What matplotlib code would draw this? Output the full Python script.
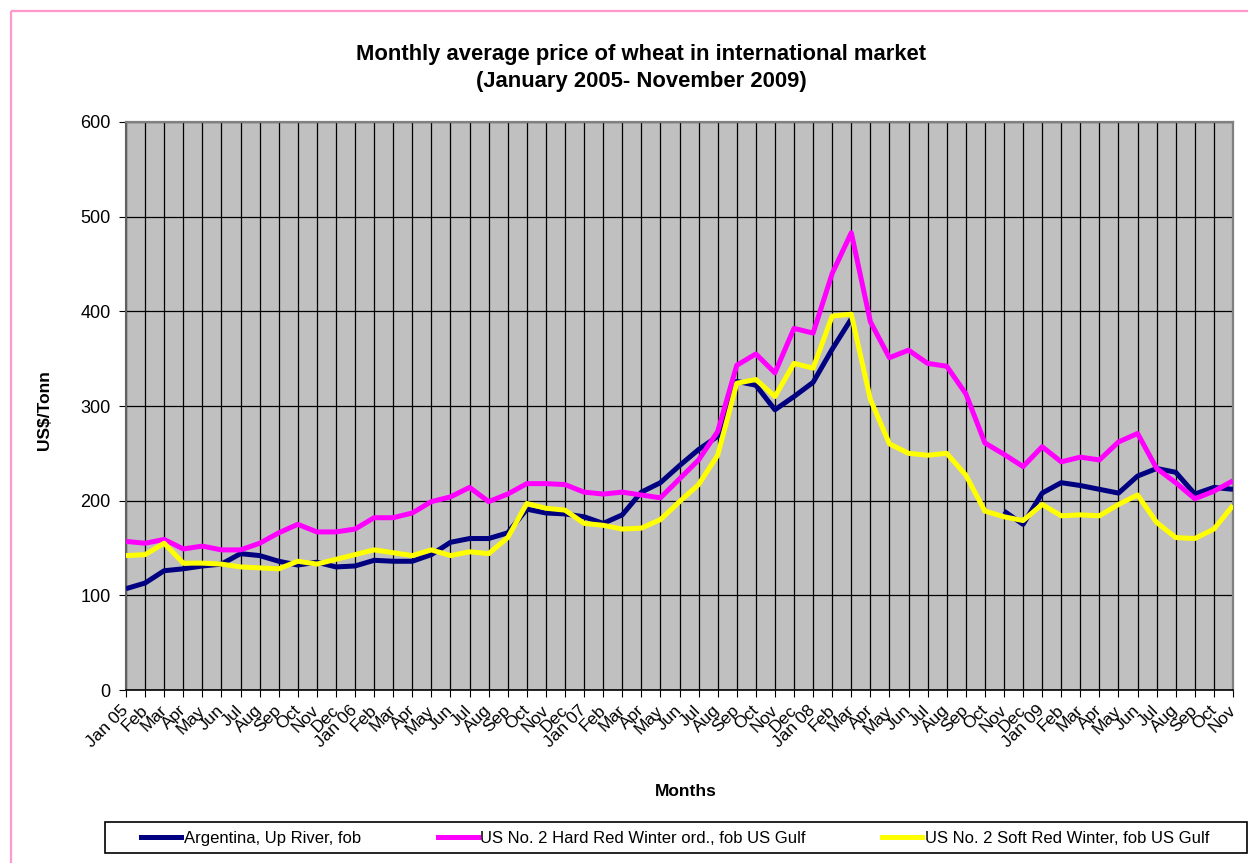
import numpy as np
import matplotlib
matplotlib.use("Agg")
import matplotlib.pyplot as plt
from matplotlib.patches import Rectangle
from matplotlib.lines import Line2D

plt.rcParams['font.family'] = ['Liberation Sans', 'DejaVu Sans']

# Data (US$/Tonn), Jan 2005 - Nov 2009
nan = np.nan
years = ['05', '06', '07', '08', '09']
months = ['Jan', 'Feb', 'Mar', 'Apr', 'May', 'Jun',
          'Jul', 'Aug', 'Sep', 'Oct', 'Nov', 'Dec']

argentina = [107, 113, 126, 128, 131, 133, 144, 142, 136, 132, 135, 130,
             131, 137, 136, 136, 143, 156, 160, 160, 166, 191, 187, 186,
             183, 176, 185, 209, 219, 237, 254, 268, 326, 322, 296, 310,
             325, 360, 392, nan, nan, nan, nan, nan, nan, nan, 189, 175,
             208, 219, 216, 212, 208, 226, 234, 230, 207, 214, 212]

hrw = [157, 155, 159, 149, 152, 148, 148, 155, 166, 175, 167, 167,
       170, 182, 182, 187, 199, 204, 214, 199, 207, 218, 218, 217,
       209, 207, 209, 206, 203, 223, 243, 273, 343, 355, 335, 382,
       377, 440, 483, 389, 351, 359, 345, 342, 313, 261, 249, 236,
       257, 241, 246, 243, 262, 271, 234, 219, 202, 210, 221]

srw = [142, 143, 155, 134, 134, 133, 130, 129, 128, 136, 133, 138,
       143, 148, 145, 142, 148, 142, 146, 144, 161, 197, 192, 190,
       176, 174, 170, 171, 180, 199, 217, 248, 324, 328, 310, 345,
       340, 395, 397, 307, 260, 250, 248, 250, 227, 189, 183, 179,
       196, 184, 185, 184, 196, 206, 177, 161, 160, 170, 195]

labels = []
for y in years:
    for m in months:
        labels.append(m + ' ' + y if m == 'Jan' else m)
labels = labels[:len(hrw)]

series = [
    ('Argentina, Up River, fob', argentina, '#000080'),
    ('US No. 2 Hard Red Winter ord., fob US Gulf', hrw, '#FF00FF'),
    ('US No. 2 Soft Red Winter, fob US Gulf', srw, '#FFFF00'),
]

W, H = 1249, 863
fig = plt.figure(figsize=(W / 100, H / 100), dpi=100)
ax = fig.add_axes([126 / W, 1 - 690 / H, (1233 - 126) / W, (690 - 122) / H])
ax.set_facecolor('#C0C0C0')

x = np.arange(len(hrw))
for name, vals, col in series:
    ax.plot(x, vals, color=col, lw=3.6, solid_capstyle='butt', zorder=3)

ax.set_xlim(0, len(hrw) - 1)
ax.set_ylim(0, 600)
ax.set_yticks(range(0, 601, 100))
ax.set_xticks(x)
ax.set_xticklabels(labels, rotation=45, ha='right', va='center',
                   rotation_mode='anchor', fontsize=12.5)
ax.tick_params(axis='y', labelsize=13, length=5, direction='out', pad=6)
ax.tick_params(axis='x', length=5, direction='out', pad=8)

ax.grid(True, color='black', lw=0.9, zorder=1)
ax.set_axisbelow(True)

for s in ['top', 'right']:
    ax.spines[s].set_color('#808080')
    ax.spines[s].set_linewidth(1.6)
ax.spines['left'].set_color('#606060')
ax.spines['left'].set_linewidth(1.5)
ax.spines['bottom'].set_color('black')
ax.spines['bottom'].set_linewidth(1.2)

fig.text(641 / W, 1 - 68 / H,
         'Monthly average price of wheat in international market\n(January 2005- November 2009)',
         ha='center', va='center', fontsize=15.8, fontweight='bold', linespacing=1.4)
fig.text(686 / W, 1 - 791 / H, 'Months', ha='center', va='center',
         fontsize=12.5, fontweight='bold')
fig.text(45 / W, 1 - 410 / H, 'US$/Tonn', ha='center', va='center',
         rotation=90, fontsize=12.5, fontweight='bold')

# legend box
fig.patches.append(Rectangle((105 / W, 1 - 853 / H), (1247 - 105) / W, 31 / H,
                             transform=fig.transFigure, fill=False,
                             edgecolor='black', lw=1.2))
handles = [Line2D([], [], color=c, lw=3.6) for _, _, c in series]
fig.legend(handles, [n for n, _, _ in series], loc='center left',
           bbox_to_anchor=(138 / W, 1 - 838 / H), ncol=3, frameon=False,
           fontsize=12, handlelength=2.4, handletextpad=0.15,
           columnspacing=4.6, borderaxespad=0, borderpad=0.2)

# chart area border: only top and left edges are inside the image
bx, by = 11 / W, 1 - 11 / H
fig.add_artist(Line2D([bx, 0.999], [by, by], transform=fig.transFigure,
                      color='#FF99CC', lw=1.6, solid_capstyle='butt'))
fig.add_artist(Line2D([bx, bx], [0.0, by], transform=fig.transFigure,
                      color='#FF99CC', lw=1.6, solid_capstyle='butt'))

fig.savefig('out.png', dpi=100)
